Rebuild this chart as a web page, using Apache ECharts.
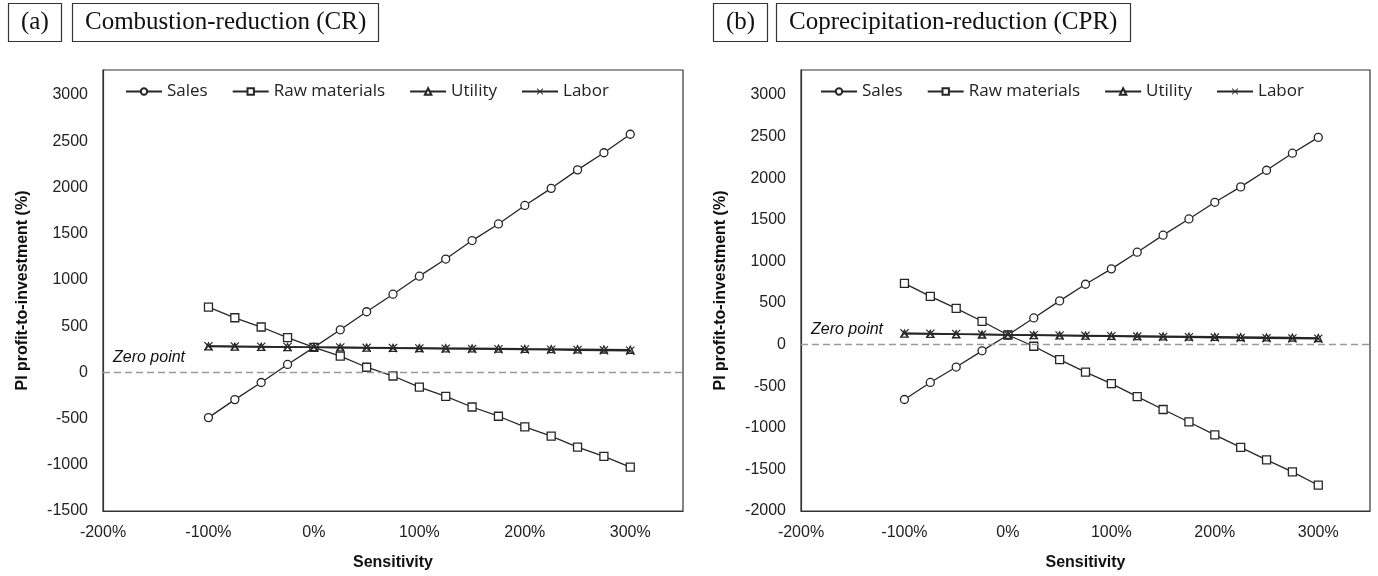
<!DOCTYPE html>
<html>
<head>
<meta charset="utf-8">
<script src="https://cdn.jsdelivr.net/npm/echarts@6/dist/echarts.min.js"></script>
<style>
  html, body { margin: 0; padding: 0; background: #fff; }
  #chart { width: 1378px; height: 576px; }
</style>
</head>
<body>
<div id="chart"></div>
<script>
// Sensitivity (%) values
const sensitivity = [-100, -75, -50, -25, 0, 25, 50, 75, 100, 125, 150, 175, 200, 225, 250, 275, 300];
const seriesNames = ['Sales', 'Raw materials', 'Utility', 'Labor'];

// (a) Combustion-reduction (CR)
const crSales     = [-490, -295, -110, 85, 270, 460, 655, 845, 1040, 1225, 1425, 1605, 1805, 1990, 2190, 2375, 2575];
const crRaw       = [705, 590, 490, 375, 270, 175, 55, -40, -160, -260, -375, -475, -590, -690, -810, -910, -1025];
const crUtility   = [280, 277, 275, 273, 271, 269, 267, 264, 262, 260, 258, 256, 253, 251, 249, 247, 244];
const crLabor     = [283, 280, 277, 274, 271, 268, 265, 262, 259, 256, 253, 250, 247, 244, 241, 238, 234];

// (b) Coprecipitation-reduction (CPR)
const cprSales    = [-660, -455, -270, -75, 115, 320, 525, 725, 910, 1110, 1315, 1510, 1710, 1895, 2095, 2300, 2490];
const cprRaw      = [735, 580, 435, 280, 115, -20, -180, -330, -470, -625, -780, -930, -1085, -1235, -1385, -1530, -1690];
const cprUtility  = [131, 128, 124, 121, 117, 114, 111, 108, 104, 101, 98, 95, 92, 89, 86, 83, 79];
const cprLabor    = [135, 131, 127, 122, 117, 113, 109, 105, 100, 96, 92, 88, 84, 80, 77, 74, 71];

const xTicks = { min: -200, max: 350, interval: 100 };
const yTicksA = { min: -1500, max: 3270, interval: 500 };
const yTicksB = { min: -2000, max: 3300, interval: 500 };

const INK = '#262626';
const crossPath = 'path://M0,0.9 L0.9,0 L5,4.1 L9.1,0 L10,0.9 L5.9,5 L10,9.1 L9.1,10 L5,5.9 L0.9,10 L0,9.1 L4.1,5 Z';
const symbols = ['circle', 'rect', 'triangle', crossPath];
const symbolSizes = [8, 8, 7, 9];

function pairs(ys) { return sensitivity.map((x, i) => [x, ys[i]]); }

function makeSeries(idx, name, ys, k) {
  const isCross = k === 3;
  return {
    name: name,
    type: 'line',
    xAxisIndex: idx, yAxisIndex: idx,
    data: pairs(ys),
    symbol: symbols[k],
    symbolSize: symbolSizes[k],
    showAllSymbol: true,
    lineStyle: { color: INK, width: (k >= 2 ? 1.7 : 1.3) },
    itemStyle: isCross ? { color: INK, borderWidth: 0 } : { color: '#fff', borderColor: INK, borderWidth: 1.3 },
    emphasis: { disabled: true },
    z: 3 + k,
    animation: false
  };
}

const fontSans = 'Liberation Sans';
const axisLabelStyle = { color: '#222', fontSize: 16, fontFamily: fontSans };

function xAxis(idx) {
  return {
    type: 'value', gridIndex: idx,
    min: xTicks.min, max: xTicks.max, interval: xTicks.interval,
    name: 'Sensitivity', nameLocation: 'middle', nameGap: 44,
    nameTextStyle: { color: '#111', fontSize: 16, fontWeight: 'bold', fontFamily: fontSans },
    axisLine: { show: true, onZero: false, lineStyle: { color: '#333', width: 1.2 } },
    axisTick: { show: false },
    splitLine: { show: false },
    axisLabel: Object.assign({ margin: 14, showMaxLabel: false, formatter: v => v + '%' }, axisLabelStyle)
  };
}
function yAxis(idx, t) {
  return {
    type: 'value', gridIndex: idx,
    min: t.min, max: t.max, interval: t.interval,
    name: 'PI profit-to-investment (%)', nameLocation: 'middle', nameGap: 72,
    nameTextStyle: { color: '#111', fontSize: 16, fontWeight: 'bold', fontFamily: fontSans },
    axisLine: { show: true, onZero: false, lineStyle: { color: '#333', width: 1.2 } },
    axisTick: { show: false },
    splitLine: { show: false },
    axisLabel: Object.assign({ margin: 15, showMaxLabel: false, formatter: v => String(v) }, axisLabelStyle)
  };
}

const series = [];
[[crSales, crRaw, crUtility, crLabor], [cprSales, cprRaw, cprUtility, cprLabor]].forEach((set, idx) => {
  set.forEach((ys, k) => series.push(makeSeries(idx, seriesNames[k], ys, k)));
});
// Zero point dashed lines
[0, 1].forEach(idx => {
  series.push({
    type: 'line', xAxisIndex: idx, yAxisIndex: idx, data: [], silent: true,
    markLine: {
      silent: true, symbol: ['none', 'none'], animation: false,
      lineStyle: { type: [7, 4], color: '#9a9a9a', width: 1.3 },
      label: {
        show: true, position: 'insideStartTop', formatter: 'Zero point',
        fontStyle: 'italic', fontSize: 16, fontFamily: fontSans, color: '#111', distance: [10, 7]
      },
      data: [{ yAxis: 0 }]
    }
  });
});

function legend(left) {
  return {
    data: seriesNames, left: left, top: 78, orient: 'horizontal',
    itemWidth: 36, itemHeight: 8, itemGap: 24,
    textStyle: { fontSize: 17, fontFamily: 'Open Sans', color: '#222' },
    selectedMode: false
  };
}

const titleBox = { borderColor: '#333', borderWidth: 1.2, padding: [6, 13] };
const titleText = { fontFamily: 'Liberation Serif', fontSize: 25, fontWeight: 'normal', color: '#111', lineHeight: 27 };

const option = {
  backgroundColor: '#fff',
  animation: false,
  title: [
    Object.assign({ text: '(a)', left: 8, top: 3, textStyle: titleText }, titleBox),
    Object.assign({ text: 'Combustion-reduction (CR)', left: 72, top: 3, textStyle: titleText }, titleBox),
    Object.assign({ text: '(b)', left: 713, top: 3, textStyle: titleText }, titleBox),
    Object.assign({ text: 'Coprecipitation-reduction (CPR)', left: 776, top: 3, textStyle: titleText }, titleBox)
  ],
  legend: [legend(120), legend(815)],
  grid: [
    { left: 103, top: 70, width: 580, height: 443, show: true, borderColor: '#333', borderWidth: 1.2, backgroundColor: 'transparent' },
    { left: 801, top: 70, width: 569, height: 443, show: true, borderColor: '#333', borderWidth: 1.2, backgroundColor: 'transparent' }
  ],
  xAxis: [xAxis(0), xAxis(1)],
  yAxis: [yAxis(0, yTicksA), yAxis(1, yTicksB)],
  series: series
};

const chart = echarts.init(document.getElementById('chart'), null, { renderer: 'canvas' });
chart.setOption(option);
</script>
</body>
</html>
